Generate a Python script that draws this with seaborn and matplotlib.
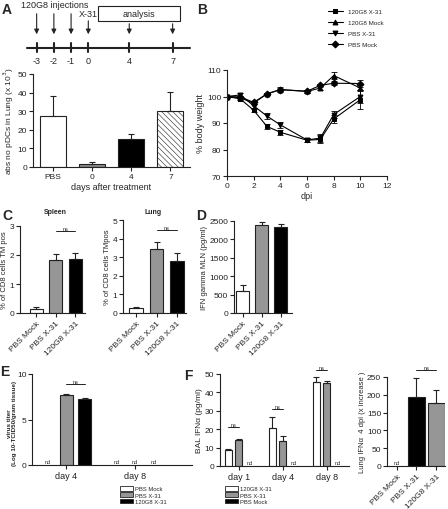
import numpy as np
import pandas as pd
import matplotlib.pyplot as plt
import seaborn as sns
from matplotlib.patches import Patch, Rectangle

# --- data ------------------------------------------------------------------
# A: timeline + pDC counts
tl_days = ['-3', '-2', '-1', '0', '4', '7']
tl_pos = [-3, -2, -1, 0, 2.38, 4.9]          # schematic (compressed) positions
a_groups = ['PBS', '0', '4', '7']
a_pdc = [27.3, 1.5, 15.2, 30.2]
a_sd = [10.8, 1.3, 2.3, 10.3]

# B: body weight
b_dpi = [0, 1, 2, 3, 4, 6, 7, 8, 10]
b_series = ['120G8 X-31', '120G8 Mock', 'PBS X-31', 'PBS Mock']
b_120g8_x31 = [100, 99.1, 94.8, 88.7, 86.5, 83.5, 83.8, 91.5, 98.8]
b_120g8_x31_sd = [0.3, 0.5, 0.6, 0.8, 1.0, 0.8, 1.5, 1.5, 3.5]
b_120g8_mock = [100, 99.5, 97.5, 101.0, 102.6, 101.9, 103.2, 107.9, 103.2]
b_120g8_mock_sd = [0.3, 0.5, 0.5, 0.5, 0.6, 0.5, 0.6, 1.2, 1.0]
b_pbs_x31 = [100, 100.6, 96.5, 92.6, 89.3, 83.6, 84.3, 93.2, 100.0]
b_pbs_x31_sd = [0.3, 0.8, 0.7, 1.0, 1.0, 0.7, 1.5, 1.5, 2.5]
b_pbs_mock = [100, 99.8, 97.8, 101.0, 102.6, 102.0, 104.2, 105.0, 104.9]
b_pbs_mock_sd = [0.3, 0.5, 0.5, 0.5, 0.8, 0.5, 0.6, 0.8, 1.2]

# C / D: CD8 tetramer+ cells and IFN gamma
c_groups = ['PBS Mock', 'PBS X-31', '120G8 X-31']
c_spleen = [0.15, 1.83, 1.87]
c_spleen_sd = [0.04, 0.2, 0.2]
c_lung = [0.25, 3.42, 2.8]
c_lung_sd = [0.06, 0.42, 0.4]
d_ifng = [590, 2380, 2340]
d_ifng_sd = [160, 90, 70]

# E: virus titer (nan = nd)
e_days = ['day 4', 'day 8']
e_groups = ['PBS Mock', 'PBS X-31', '120G8 X-31']
e_pbs_mock = [np.nan, np.nan]
e_pbs_x31 = [7.65, np.nan]
e_120g8_x31 = [7.3, np.nan]
e_pbs_x31_sd = [0.1, 0]
e_120g8_x31_sd = [0.06, 0]

# F: IFN alpha
f_days = ['day 1', 'day 4', 'day 8']
f_groups = ['120G8 X-31', 'PBS X-31', 'PBS Mock']
f_120g8_x31 = [8.8, 20.4, 45.8]
f_120g8_x31_sd = [0.3, 6.0, 2.4]
f_pbs_x31 = [14.3, 13.7, 45.0]
f_pbs_x31_sd = [0.3, 2.7, 1.0]
f_pbs_mock = [np.nan, np.nan, np.nan]
fr_groups = ['PBS Mock', 'PBS X-31', '120G8 X-31']
fr_lung = [np.nan, 193, 177]
fr_lung_sd = [0, 53, 37]

# --- style -----------------------------------------------------------------
sns.set_theme(style="ticks")
plt.rcParams['font.family'] = ['Liberation Sans', 'DejaVu Sans']
EDGE = '#222222'
GRAY = '#969696'
plt.rcParams.update({
    'axes.linewidth': 0.8, 'axes.edgecolor': EDGE,
    'xtick.major.width': 0.8, 'ytick.major.width': 0.8,
    'xtick.major.size': 3, 'ytick.major.size': 3,
    'xtick.color': EDGE, 'ytick.color': EDGE,
    'xtick.labelsize': 6, 'ytick.labelsize': 6, 'axes.labelsize': 6,
    'xtick.major.pad': 1.5, 'ytick.major.pad': 1.2, 'axes.labelpad': 1.5,
    'hatch.linewidth': 0.4,
})

W, H = 448, 510
fig = plt.figure(figsize=(W / 100, H / 100), dpi=100)


def px_axes(x0, y0, x1, y1):
    return fig.add_axes([x0 / W, 1 - y1 / H, (x1 - x0) / W, (y1 - y0) / H])


def center(p):
    return p.get_x() + p.get_width() / 2


def add_err(ax, p, sd):
    if sd and sd > 0:
        ax.errorbar(center(p), p.get_height(), yerr=[[0], [sd]], fmt='none',
                    ecolor=EDGE, elinewidth=0.8, capsize=2.5, capthick=0.8)


def ns(ax, p1, p2, y):
    x1, x2 = center(p1), center(p2)
    ax.plot([x1, x2], [y, y], color=EDGE, lw=0.7, clip_on=False)
    ax.text((x1 + x2) / 2, y, 'ns', ha='center', va='bottom', fontsize=4)


def nd(ax, p, ytop):
    p.set_visible(False)
    ax.text(center(p), ytop * 0.015, 'nd', ha='center', va='bottom', fontsize=4)


def simple_bars(ax, groups, vals, sds, colors, width):
    df = pd.DataFrame({'g': groups, 'val': np.nan_to_num(vals)})
    sns.barplot(data=df, x='g', y='val', hue='g', order=groups, hue_order=groups,
                palette=colors, width=width, saturation=1, edgecolor=EDGE,
                linewidth=0.8, errorbar=None, legend=False, ax=ax)
    for p, s in zip(ax.patches, sds):
        add_err(ax, p, s)
    ax.set_xlabel('')
    sns.despine(ax=ax)
    return list(ax.patches)


def rot_labels(ax):
    for t in ax.get_xticklabels():
        t.set_rotation(45)
        t.set_ha('right')
        t.set_rotation_mode('anchor')


# --- A: timeline -----------------------------------------------------------
ax_t = px_axes(0, 0, 200, 70)
ax_t.set_xlim(-5.13, 6.49)
ax_t.set_ylim(70, 0)
ax_t.axis('off')
ax_t.plot([-3.56, 5.9], [49, 49], color=EDGE, lw=1.5)
for p, lab in zip(tl_pos, tl_days):
    ax_t.plot([p, p], [44, 53], color=EDGE, lw=1.5)
    ax_t.text(p, 62, lab, ha='center', va='center', fontsize=6.5)
    start = 12 if p < 0 else (19 if p == 0 else 22)
    ax_t.annotate('', xy=(p, 38), xytext=(p, start),
                  arrowprops=dict(arrowstyle='-|>', color=EDGE, lw=0.8, mutation_scale=7))
ax_t.add_patch(Rectangle((0.56, 7), 4.77, 15, facecolor='white', edgecolor=EDGE, lw=0.8))
ax_t.text(2.95, 14.5, 'analysis', ha='center', va='center', fontsize=6.5)
ax_t.text(-3.9, 5.5, '120G8 injections', ha='left', va='center', fontsize=6.5)
ax_t.text(-0.55, 14.5, 'X-31', ha='left', va='center', fontsize=6.5)

# --- A: pDC bars -----------------------------------------------------------
ax_a = px_axes(33, 75, 190, 168)
bars = simple_bars(ax_a, a_groups, a_pdc, a_sd, ['white', '#8a8a8a', 'black', 'white'], 0.66)
bars[3].set_hatch('\\' * 6)
ax_a.set_xlim(-0.5, 3.5)
ax_a.set_ylim(0, 50)
ax_a.set_yticks([0, 10, 20, 30, 40, 50])
ax_a.set_xlabel('days after treatment', fontsize=6.5)
ax_a.set_ylabel('abs no pDCs in Lung (x 10$^3$)')

# --- B: body weight --------------------------------------------------------
ax_b = px_axes(227, 71, 387, 177)
b_vals = [b_120g8_x31, b_120g8_mock, b_pbs_x31, b_pbs_mock]
b_sds = [b_120g8_x31_sd, b_120g8_mock_sd, b_pbs_x31_sd, b_pbs_mock_sd]
df_b = pd.DataFrame({
    'dpi': b_dpi * 4,
    'weight': sum(b_vals, []),
    'sd': sum(b_sds, []),
    'group': np.repeat(b_series, len(b_dpi)),
})
markers = {'120G8 X-31': 's', '120G8 Mock': '^', 'PBS X-31': 'v', 'PBS Mock': 'D'}
sns.lineplot(data=df_b, x='dpi', y='weight', hue='group', style='group',
             hue_order=b_series, style_order=b_series,
             palette={g: 'black' for g in b_series}, markers=markers, dashes=False,
             markersize=3.5, linewidth=0.8, markeredgecolor='black', ax=ax_b)
handles, labels = ax_b.get_legend_handles_labels()
for g in b_series:
    sub = df_b[df_b['group'] == g]
    ax_b.errorbar(sub['dpi'], sub['weight'], yerr=sub['sd'], fmt='none',
                  ecolor='black', elinewidth=0.6, capsize=2, capthick=0.6)
ax_b.legend(handles, labels, loc='upper left', bbox_to_anchor=(322 / W, 1 - 4 / H),
            bbox_transform=fig.transFigure, frameon=False, fontsize=4.5,
            handlelength=2.5, labelspacing=0.9)
ax_b.set_xlim(0, 12)
ax_b.set_ylim(70, 110)
ax_b.set_xticks(range(0, 13, 2))
ax_b.set_yticks([70, 80, 90, 100, 110])
ax_b.set_xlabel('dpi', fontsize=6.5)
ax_b.set_ylabel('% body weight', fontsize=6.5)
sns.despine(ax=ax_b)

# --- C: spleen / lung ------------------------------------------------------
c_cols = ['white', GRAY, 'black']
ax_cs = px_axes(20, 227, 85, 314)
bars = simple_bars(ax_cs, c_groups, c_spleen, c_spleen_sd, c_cols, 0.67)
ax_cs.set_xlim(-0.85, 2.5)
ax_cs.set_ylim(0, 3)
ax_cs.set_yticks([0, 1, 2, 3])
ax_cs.set_ylabel('% of CD8 cells TM pos', fontsize=5.5, labelpad=1)
ns(ax_cs, bars[1], bars[2], 2.84)
rot_labels(ax_cs)

ax_cl = px_axes(123, 221, 186, 314)
bars = simple_bars(ax_cl, c_groups, c_lung, c_lung_sd, c_cols, 0.67)
ax_cl.set_xlim(-0.65, 2.45)
ax_cl.set_ylim(0, 5)
ax_cl.set_yticks([0, 1, 2, 3, 4, 5])
ax_cl.set_ylabel('% of CD8 cells TMpos', fontsize=5.5, labelpad=1)
ns(ax_cl, bars[1], bars[2], 4.45)
rot_labels(ax_cl)

fig.text(55 / W, 1 - 212 / H, 'Spleen', ha='center', va='center', fontsize=5, weight='bold')
fig.text(153 / W, 1 - 212 / H, 'Lung', ha='center', va='center', fontsize=5, weight='bold')

# --- D: IFN gamma ----------------------------------------------------------
ax_d = px_axes(234, 222, 292, 314)
simple_bars(ax_d, c_groups, d_ifng, d_ifng_sd, c_cols, 0.67)
ax_d.set_xlim(-0.45, 2.6)
ax_d.set_ylim(0, 2500)
ax_d.set_yticks(range(0, 2501, 500))
ax_d.set_ylabel('IFN gamma MLN (pg/ml)', fontsize=5.5, labelpad=1)
rot_labels(ax_d)


# --- grouped bars (E, F) ---------------------------------------------------
def grouped_bars(ax, days, groups, series, sds, colors, width, gap, ytop):
    df = pd.DataFrame({
        'day': days * len(groups),
        'group': np.repeat(groups, len(days)),
        'val': np.nan_to_num(np.concatenate(series)),
    })
    sns.barplot(data=df, x='day', y='val', hue='group', order=days, hue_order=groups,
                palette=colors, width=width, gap=gap, saturation=1, edgecolor=EDGE,
                linewidth=0.8, errorbar=None, legend=False, ax=ax)
    out = []
    for cont, vals, sd in zip(ax.containers, series, sds):
        for p, v, s in zip(cont.patches, vals, sd):
            if np.isnan(v):
                nd(ax, p, ytop)
            else:
                add_err(ax, p, s)
        out.append(list(cont.patches))
    ax.set_xlabel('')
    sns.despine(ax=ax)
    return out


ax_e = px_axes(32, 375, 192, 466)
e_cols = ['white', GRAY, 'black']
eb = grouped_bars(ax_e, e_days, e_groups, [e_pbs_mock, e_pbs_x31, e_120g8_x31],
                  [[0, 0], e_pbs_x31_sd, e_120g8_x31_sd], e_cols, 0.8, 0.28, 10)
ax_e.set_xlim(-0.5, 1.83)
ax_e.set_ylim(0, 10)
ax_e.set_yticks([0, 5, 10])
ax_e.tick_params(axis='x', labelsize=6.5)
ax_e.tick_params(axis='y', pad=0.8)
ax_e.set_ylabel('virus titer\n(Log 10-TCID50/gram tissue)', fontsize=4.5,
                weight='bold', labelpad=0.5, linespacing=0.95)
ax_e.yaxis.label.set_y(0.47)
ns(ax_e, eb[1][0], eb[2][0], 8.9)
fig.legend([Patch(facecolor=c, edgecolor=EDGE, lw=0.6) for c in e_cols], e_groups,
           loc='upper left', bbox_to_anchor=(117 / W, 1 - 484 / H), frameon=False,
           fontsize=4.2, handlelength=2.2, handleheight=0.9, labelspacing=0.15,
           handletextpad=0.3, borderpad=0)

ax_f = px_axes(220, 375, 349, 467)
f_cols = ['white', GRAY, 'black']
fb = grouped_bars(ax_f, f_days, f_groups, [f_120g8_x31, f_pbs_x31, f_pbs_mock],
                  [f_120g8_x31_sd, f_pbs_x31_sd, [0, 0, 0]], f_cols, 0.72, 0.34, 50)
ax_f.set_xlim(-0.43, 2.5)
ax_f.set_ylim(0, 50)
ax_f.set_yticks(range(0, 51, 10))
ax_f.tick_params(axis='x', labelsize=6.5)
ax_f.set_ylabel('BAL IFN\u03b1 (pg/ml)')
for j, y in enumerate([21.3, 31.0, 52.4]):
    ns(ax_f, fb[0][j], fb[1][j], y)
fig.legend([Patch(facecolor=c, edgecolor=EDGE, lw=0.6) for c in f_cols], f_groups,
           loc='upper left', bbox_to_anchor=(222 / W, 1 - 484 / H), frameon=False,
           fontsize=4.2, handlelength=2.2, handleheight=0.9, labelspacing=0.15,
           handletextpad=0.3, borderpad=0)

ax_fr = px_axes(387, 378, 445, 467)
bars = simple_bars(ax_fr, fr_groups, fr_lung, fr_lung_sd, ['white', 'black', GRAY], 0.85)
nd(ax_fr, bars[0], 250)
ax_fr.set_xlim(-0.5, 2.45)
ax_fr.set_ylim(0, 250)
ax_fr.set_yticks(range(0, 251, 50))
ax_fr.set_ylabel('Lung IFN\u03b1  4 dpi (x increase )', fontsize=5.5, labelpad=1)
ns(ax_fr, bars[1], bars[2], 270)
rot_labels(ax_fr)

# --- panel letters ---------------------------------------------------------
for lab, x, y in [('A', 2, 10), ('B', 197, 10), ('C', 2, 216), ('D', 196, 216),
                  ('E', 0, 372), ('F', 184, 376)]:
    fig.text(x / W, 1 - y / H, lab, ha='left', va='center', fontsize=10, weight='bold')

fig.savefig('out.png', dpi=100)
